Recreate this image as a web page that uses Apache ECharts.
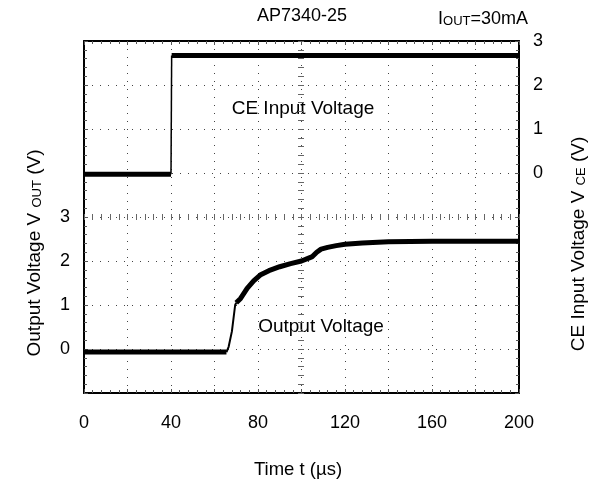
<!DOCTYPE html>
<html>
<head>
<meta charset="utf-8">
<script src="https://cdn.jsdelivr.net/npm/echarts@6/dist/echarts.min.js"></script>
<style>
    html, body { margin: 0; padding: 0; background: #fff; }
    #chart { width: 589px; height: 491px; }
</style>
</head>
<body>
<div id="chart"></div>
<script>
// 时间轴 (µs)
let timeTicks = [0, 40, 80, 120, 160, 200]
// 左轴 Output Voltage 刻度
let voutTicks = [0, 1, 2, 3]
// 右轴 CE Input Voltage 刻度
let vceTicks = [0, 1, 2, 3]

// CE 输入电压波形
let ceTime = [0, 40, 40.3, 200]
let ceVolt = [-0.03, -0.03, 2.67, 2.67]

// 输出电压波形
let outTime = [0, 30, 65.5, 66.5, 68, 69.5, 70, 72, 75, 78, 81, 85, 90, 95, 100, 103, 105, 107, 109, 112, 116, 120, 128, 140, 160, 200]
let outVolt = [-0.07, -0.07, -0.07, 0.05, 0.4, 1.0, 1.05, 1.15, 1.38, 1.55, 1.68, 1.78, 1.87, 1.94, 2.0, 2.06, 2.1, 2.2, 2.27, 2.31, 2.35, 2.38, 2.41, 2.44, 2.45, 2.45]

let font = 'Liberation Sans, Arial, sans-serif'
let gridColor = '#444'

function zip(xs, ys) {
    return xs.map((x, i) => [x, ys[i]])
}

let chart = echarts.init(document.getElementById('chart'), null, { renderer: 'canvas' })

// 边框 / 中心线的通用轴设置
function frameAxis(extra) {
    return Object.assign({
        type: 'value',
        axisLine: { show: true, onZero: false, lineStyle: { color: '#000', width: 2 } },
        axisTick: { show: true, inside: true, length: 4, lineStyle: { color: '#555' } },
        minorTick: { show: true, splitNumber: 5, length: 3, lineStyle: { color: '#555' } },
        axisLabel: { show: false },
        splitLine: { show: false }
    }, extra)
}

// 波形线：平坦段粗、跳变沿细
function trace(name, yIndex, data, width) {
    return {
        name: name, type: 'line', xAxisIndex: 0, yAxisIndex: yIndex,
        showSymbol: false, data: data,
        lineStyle: { color: '#000', width: width }
    }
}

let cePts = zip(ceTime, ceVolt)
let outPts = zip(outTime, outVolt)

let option = {
    animation: false,
    backgroundColor: '#fff',
    grid: { left: 84, top: 41, right: 70, bottom: 98, containLabel: false },
    xAxis: [
        frameAxis({
            position: 'bottom', min: 0, max: 200, interval: 20,
            axisLabel: {
                show: true, color: '#000', fontSize: 18, fontFamily: font, margin: 21,
                formatter: v => timeTicks.includes(v) ? String(v) : ''
            },
            splitLine: { show: true, lineStyle: { color: gridColor, width: 1, type: [1, 7] } }
        }),
        frameAxis({ position: 'top', min: 0, max: 200, interval: 20 }),
        // 水平中心线上的刻度
        frameAxis({
            position: 'top', offset: -176, min: 0, max: 200, interval: 20,
            axisLine: { show: false, onZero: false },
            axisTick: { show: true, inside: true, length: 3, lineStyle: { color: '#666' } },
            minorTick: { show: true, splitNumber: 5, length: 3, lineStyle: { color: '#666' } }
        }),
        frameAxis({
            position: 'top', offset: -176, min: 0, max: 200, interval: 20,
            axisLine: { show: false, onZero: false },
            axisTick: { show: true, inside: false, length: 3, lineStyle: { color: '#666' } },
            minorTick: { show: true, splitNumber: 5, length: 3, lineStyle: { color: '#666' } }
        })
    ],
    yAxis: [
        frameAxis({
            position: 'left', min: -1, max: 7, interval: 1,
            axisLabel: {
                show: true, color: '#000', fontSize: 18, fontFamily: font, margin: 14,
                formatter: v => voutTicks.includes(v) ? String(v) : ''
            },
            splitLine: { show: true, lineStyle: { color: gridColor, width: 1, type: [1, 7] } }
        }),
        frameAxis({
            position: 'right', min: -5, max: 3, interval: 1,
            axisLabel: {
                show: true, color: '#000', fontSize: 18, fontFamily: font, margin: 14,
                formatter: v => vceTicks.includes(v) ? String(v) : ''
            }
        }),
        // 垂直中心线上的刻度
        frameAxis({
            position: 'left', offset: -217, min: -1, max: 7, interval: 1,
            axisLine: { show: false, onZero: false },
            axisTick: { show: true, inside: true, length: 3, lineStyle: { color: '#666' } },
            minorTick: { show: true, splitNumber: 5, length: 3, lineStyle: { color: '#666' } }
        }),
        frameAxis({
            position: 'left', offset: -217, min: -1, max: 7, interval: 1,
            axisLine: { show: false, onZero: false },
            axisTick: { show: true, inside: false, length: 3, lineStyle: { color: '#666' } },
            minorTick: { show: true, splitNumber: 5, length: 3, lineStyle: { color: '#666' } }
        })
    ],
    series: [
        trace('CE Input Voltage', 1, cePts.slice(0, 2), 5),
        trace('CE Input Voltage edge', 1, cePts.slice(1, 3), 1.5),
        trace('CE Input Voltage', 1, cePts.slice(2), 5),
        trace('Output Voltage', 0, outPts.slice(0, 3), 5),
        trace('Output Voltage edge', 0, outPts.slice(2, 7), 2),
        trace('Output Voltage', 0, outPts.slice(6), 5)
    ],
    graphic: [
        {
            type: 'text', x: 302, y: 16,
            style: { text: 'AP7340-25', font: '18px ' + font, fill: '#000', align: 'center', verticalAlign: 'middle' }
        },
        {
            type: 'text', x: 483, y: 18,
            style: {
                text: '{m|I}{s|OUT}{m|=30mA}', align: 'center', verticalAlign: 'middle', fill: '#000',
                rich: {
                    m: { fontSize: 18, fontFamily: font, lineHeight: 20, verticalAlign: 'bottom' },
                    s: { fontSize: 13, fontFamily: font, lineHeight: 20, verticalAlign: 'bottom' }
                }
            }
        },
        {
            type: 'text', x: 303, y: 109,
            style: { text: 'CE Input Voltage', font: '19px ' + font, fill: '#000', align: 'center', verticalAlign: 'middle' }
        },
        {
            type: 'text', x: 321, y: 327,
            style: { text: 'Output Voltage', font: '19px ' + font, fill: '#000', align: 'center', verticalAlign: 'middle' }
        },
        {
            type: 'text', x: 298, y: 470,
            style: { text: 'Time t (µs)', font: '18.5px ' + font, fill: '#000', align: 'center', verticalAlign: 'middle' }
        },
        {
            type: 'text', x: 33, y: 253, rotation: Math.PI / 2,
            style: {
                text: '{m|Output Voltage V }{s|OUT}{m| (V)}', align: 'center', verticalAlign: 'middle', fill: '#000',
                rich: {
                    m: { fontSize: 19, fontFamily: font, lineHeight: 22, verticalAlign: 'bottom' },
                    s: { fontSize: 13, fontFamily: font, lineHeight: 22, verticalAlign: 'bottom' }
                }
            }
        },
        {
            type: 'text', x: 577, y: 244, rotation: Math.PI / 2,
            style: {
                text: '{m|CE Input Voltage V }{s|CE}{m| (V)}', align: 'center', verticalAlign: 'middle', fill: '#000',
                rich: {
                    m: { fontSize: 19, fontFamily: font, lineHeight: 22, verticalAlign: 'bottom' },
                    s: { fontSize: 13, fontFamily: font, lineHeight: 22, verticalAlign: 'bottom' }
                }
            }
        }
    ]
}

chart.setOption(option)
</script>
</body>
</html>
